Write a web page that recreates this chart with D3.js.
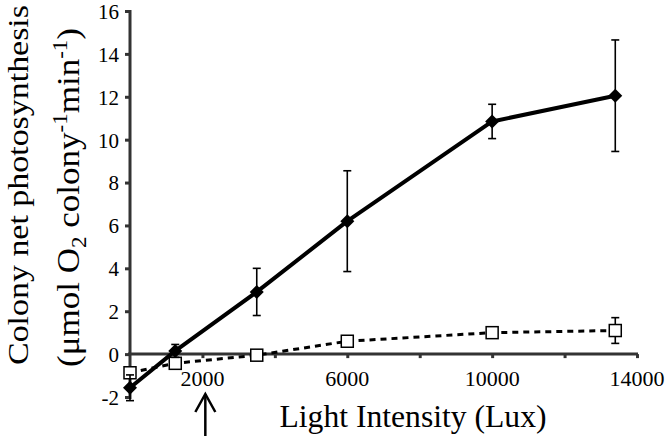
<!DOCTYPE html>
<html>
<head>
<meta charset="utf-8">
<script src="https://cdn.jsdelivr.net/npm/d3@7"></script>
<style>
  body { margin: 0; background: #fff; }
  svg { display: block; }
</style>
</head>
<body>
<svg id="chart" width="667" height="436" font-family="'Liberation Serif', 'Times New Roman', serif"></svg>
<script>
// light intensity (Lux)
var lux = [0, 1250, 3500, 6000, 10000, 13400];
// colony net photosynthesis, filled diamonds
var netA = [-1.57, 0.15, 2.9, 6.2, 10.85, 12.05];
var errA = [0.6, 0.3, 1.1, 2.35, 0.8, 2.6];
// open squares
var netB = [-0.87, -0.43, -0.05, 0.6, 1.0, 1.1];
var errB = [0, 0, 0, 0, 0, 0.6];

var xTicks = [2000, 4000, 6000, 8000, 10000, 12000, 14000];
var xLabels = [2000, 6000, 10000, 14000];
var yTicks = [-2, 0, 2, 4, 6, 8, 10, 12, 14, 16];

var svg = d3.select("#chart");
var axisCol = "#333";
var serif = "'Liberation Serif', 'Times New Roman', serif";

var x = d3.scaleLinear().domain([0, 14000]).range([130, 637]);
var y = d3.scaleLinear().domain([-2, 16]).range([397, 11]);

// y axis
var yAxis = svg.append("g")
    .attr("transform", "translate(" + x(0) + ",0)")
    .call(d3.axisLeft(y).tickValues(yTicks).tickSize(5).tickPadding(6)
        .tickFormat(function (d) { return String(d); }));
yAxis.attr("font-family", serif).attr("font-size", 21);
yAxis.select(".domain").attr("stroke", axisCol).attr("stroke-width", 3).attr("d", "M0," + (y(-2) + 2) + "V" + (y(16) - 1));
yAxis.selectAll(".tick line").attr("stroke", axisCol).attr("stroke-width", 3);
yAxis.selectAll(".tick text").attr("dy", "0.35em").attr("font-family", serif).attr("fill", "#000");

// x axis along y = 0
var xAxis = svg.append("g")
    .attr("transform", "translate(0," + y(0) + ")")
    .call(d3.axisBottom(x).tickValues(xTicks).tickSize(4).tickFormat(""));
xAxis.select(".domain").attr("stroke", axisCol).attr("stroke-width", 3).attr("d", "M" + (x(0) - 2) + ",0H" + (x(14000) + 1));
xAxis.selectAll(".tick line").attr("stroke", axisCol).attr("stroke-width", 3);

// x labels sit below the plot
svg.append("g").selectAll("text")
    .data(xLabels)
    .enter().append("text")
    .attr("x", function (d) { return x(d); })
    .attr("y", 386)
    .attr("text-anchor", "middle")
    .attr("font-family", serif)
    .attr("font-size", 22)
    .text(function (d) { return d; });

var line = d3.line()
    .x(function (d) { return x(d[0]); })
    .y(function (d) { return y(d[1]); });

function errBars(vals, errs, cls) {
    var pts = lux.map(function (l, i) { return {x: l, v: vals[i], e: errs[i]}; })
        .filter(function (d) { return d.e > 0; });
    var g = svg.append("g").attr("class", cls)
        .attr("stroke", "#000").attr("stroke-width", 1.6);
    g.selectAll("line.v").data(pts).enter().append("line")
        .attr("x1", function (d) { return x(d.x); })
        .attr("x2", function (d) { return x(d.x); })
        .attr("y1", function (d) { return y(d.v - d.e); })
        .attr("y2", function (d) { return y(d.v + d.e); });
    [-1, 1].forEach(function (s) {
        g.selectAll("line.c" + s).data(pts).enter().append("line")
            .attr("x1", function (d) { return x(d.x) - 4; })
            .attr("x2", function (d) { return x(d.x) + 4; })
            .attr("y1", function (d) { return y(d.v + s * d.e); })
            .attr("y2", function (d) { return y(d.v + s * d.e); });
    });
}

errBars(netB, errB, "errB");

// dashed series
svg.append("path")
    .datum(lux.map(function (l, i) { return [l, netB[i]]; }))
    .attr("fill", "none")
    .attr("stroke", "#000")
    .attr("stroke-width", 3)
    .attr("stroke-dasharray", "6,5")
    .attr("d", line);

svg.append("g").selectAll("rect")
    .data(lux.map(function (l, i) { return [l, netB[i]]; }))
    .enter().append("rect")
    .attr("x", function (d) { return x(d[0]) - 6; })
    .attr("y", function (d) { return y(d[1]) - 6; })
    .attr("width", 12).attr("height", 12)
    .attr("fill", "#fff").attr("stroke", "#000").attr("stroke-width", 1.5);

errBars(netA, errA, "errA");

// solid series
svg.append("path")
    .datum(lux.map(function (l, i) { return [l, netA[i]]; }))
    .attr("fill", "none")
    .attr("stroke", "#000")
    .attr("stroke-width", 4)
    .attr("stroke-linejoin", "round")
    .attr("d", line);

svg.append("g").selectAll("path")
    .data(lux.map(function (l, i) { return [l, netA[i]]; }))
    .enter().append("path")
    .attr("transform", function (d) { return "translate(" + x(d[0]) + "," + y(d[1]) + ")"; })
    .attr("d", "M0,-7L7,0L0,7L-7,0Z")
    .attr("fill", "#000");

// axis titles
svg.append("text")
    .attr("x", 413).attr("y", 427)
    .attr("text-anchor", "middle")
    .attr("font-size", 32)
    .attr("textLength", 267)
    .attr("lengthAdjust", "spacingAndGlyphs")
    .text("Light Intensity (Lux)");

var yt = svg.append("g").attr("transform", "rotate(-90)");
yt.append("text")
    .attr("x", -185).attr("y", 28)
    .attr("text-anchor", "middle")
    .attr("font-size", 30)
    .attr("textLength", 360)
    .attr("lengthAdjust", "spacingAndGlyphs")
    .text("Colony net photosynthesis");
var t2 = yt.append("text")
    .attr("x", -367).attr("y", 79)
    .attr("font-size", 32)
    .attr("textLength", 339)
    .attr("lengthAdjust", "spacingAndGlyphs");
t2.append("tspan").text("(\u03bcmol O");
t2.append("tspan").attr("font-size", 21).attr("dy", 7).text("2");
t2.append("tspan").attr("dy", -7).text(" colony");
t2.append("tspan").attr("font-size", 21).attr("dy", -12).text("-1");
t2.append("tspan").attr("dy", 12).text("min");
t2.append("tspan").attr("font-size", 21).attr("dy", -12).text("-1");
t2.append("tspan").attr("dy", 12).text(")");

// arrow under the x axis
var ax = x(2080);
var arrow = svg.append("g").attr("stroke", "#000").attr("stroke-width", 2.5).attr("fill", "none");
arrow.append("line").attr("x1", ax).attr("x2", ax).attr("y1", 436).attr("y2", 394);
arrow.append("path").attr("d", "M" + (ax - 10) + ",412L" + ax + ",394L" + (ax + 10) + ",412");
</script>
</body>
</html>
